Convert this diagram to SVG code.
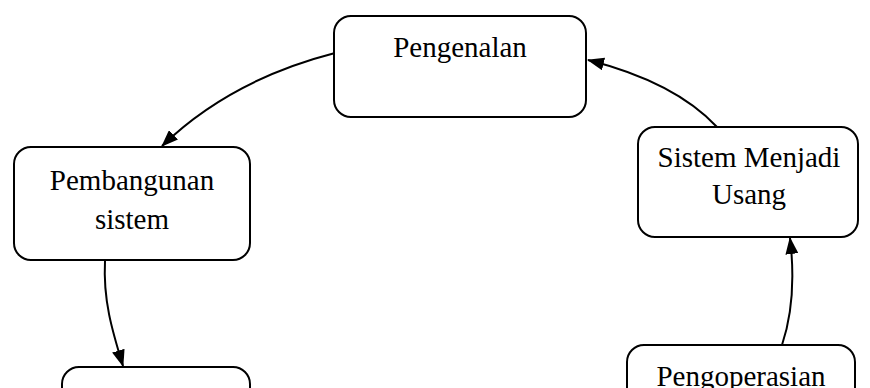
<svg xmlns="http://www.w3.org/2000/svg" width="870" height="388" viewBox="0 0 870 388">
  <style>
    .box { fill: #ffffff; stroke: #000000; stroke-width: 2; }
    .label { font-family: "Liberation Serif", "Times New Roman", serif; font-size: 29px; fill: #000000; text-anchor: middle; }
    .edge { fill: none; stroke: #000000; stroke-width: 2; marker-end: url(#arrow); }
  </style>
  <defs>
    <marker id="arrow" markerUnits="userSpaceOnUse" markerWidth="17" markerHeight="13" viewBox="0 0 17 13" refX="16" refY="6.5" orient="auto">
      <path d="M0,0 L17,6.5 L0,13 z" fill="#000000"/>
    </marker>
  </defs>
  <rect width="870" height="388" fill="#ffffff"/>

  <g id="connectors">
    <path class="edge" d="M335,53 Q230,80 162,146"/>
    <path class="edge" d="M105,261 C103,300 112,330 123,366"/>
    <path class="edge" d="M782,345 C792,315 795,280 790,238"/>
    <path class="edge" d="M717,127 Q675,82 588,60"/>
  </g>

  <g id="pengenalan">
    <rect class="box" x="334" y="16" width="252" height="101" rx="17"/>
    <text class="label" x="460" y="57">Pengenalan</text>
  </g>

  <g id="pembangunan-sistem">
    <rect class="box" x="14" y="147" width="236" height="113" rx="17"/>
    <text class="label" x="132" y="190">Pembangunan</text>
    <text class="label" x="132" y="229">sistem</text>
  </g>

  <g id="sistem-menjadi-usang">
    <rect class="box" x="638" y="127" width="220" height="110" rx="17"/>
    <text class="label" x="749" y="167">Sistem Menjadi</text>
    <text class="label" x="749" y="204">Usang</text>
  </g>

  <g id="node-bottom-left">
    <rect class="box" x="62" y="367" width="188" height="60" rx="17"/>
  </g>

  <g id="pengoperasian">
    <rect class="box" x="627" y="345" width="228" height="80" rx="17"/>
    <text class="label" x="741" y="386">Pengoperasian</text>
  </g>
</svg>
